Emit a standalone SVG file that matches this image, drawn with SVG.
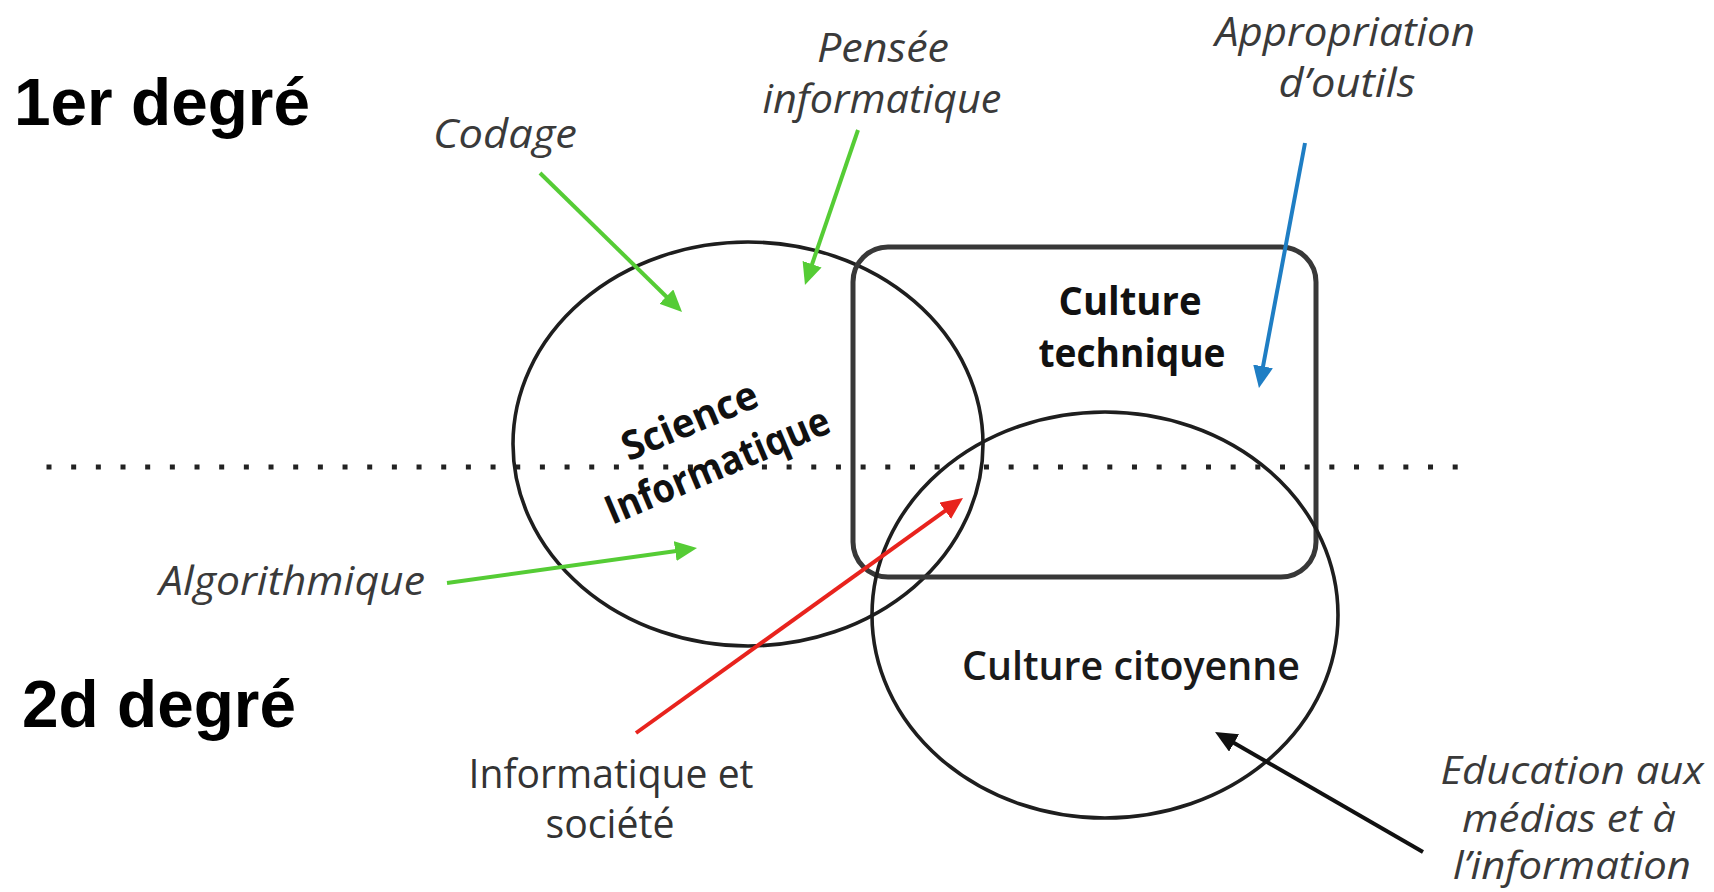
<svg xmlns="http://www.w3.org/2000/svg" width="1714" height="892" viewBox="0 0 1714 892">
<style>
.deg{font-family:"Liberation Sans",Arial,sans-serif;font-weight:bold;font-size:66px;fill:#000}
.lab{font-family:"Open Sans","Noto Sans",sans-serif;font-style:italic;font-size:40px;fill:#3a3a3a}
.lab2{font-family:"Open Sans","Noto Sans",sans-serif;font-style:italic;font-size:38px;fill:#3a3a3a}
.up{font-family:"Open Sans","Noto Sans",sans-serif;font-size:40px;fill:#333}
.bold{font-family:"Open Sans","Noto Sans",sans-serif;font-weight:bold;font-size:40px;fill:#111}
.semi{font-family:"Open Sans","Noto Sans",sans-serif;font-weight:600;font-size:39px;fill:#1a1a1a}
.shape{fill:none;stroke:#1e1e1e;stroke-width:3.6}
.box{fill:none;stroke:#383838;stroke-width:5}
.arr{fill:none;stroke-width:4;stroke-linecap:butt}
</style>
<defs>
<marker id="mg" markerUnits="userSpaceOnUse" markerWidth="24" markerHeight="22" refX="12" refY="10" orient="auto"><path d="M0,0 L22,10 L0,20 z" fill="#55cc35"/></marker>
<marker id="mr" markerUnits="userSpaceOnUse" markerWidth="24" markerHeight="22" refX="12" refY="10" orient="auto"><path d="M0,0 L22,10 L0,20 z" fill="#e8231d"/></marker>
<marker id="mb" markerUnits="userSpaceOnUse" markerWidth="24" markerHeight="22" refX="12" refY="10" orient="auto"><path d="M0,0 L22,10 L0,20 z" fill="#1f7ec4"/></marker>
<marker id="mk" markerUnits="userSpaceOnUse" markerWidth="24" markerHeight="22" refX="12" refY="10" orient="auto"><path d="M0,0 L22,10 L0,20 z" fill="#111"/></marker>
</defs>
<rect width="1714" height="892" fill="#fff"/>

<g id="deg1"><text class="deg" x="14" y="125" textLength="296" lengthAdjust="spacingAndGlyphs">1er degré</text></g>
<g id="deg2"><text class="deg" x="22" y="727" textLength="274" lengthAdjust="spacingAndGlyphs">2d degré</text></g>

<g id="divider"><line x1="46.5" y1="467" x2="1460" y2="467" stroke="#222" stroke-width="5" stroke-dasharray="5 19.67"/></g>

<g id="science">
<ellipse class="shape" cx="748" cy="444" rx="235" ry="202"/>
<g transform="translate(708,454) rotate(-23)">
<text class="bold" x="-4" y="-24" text-anchor="middle" textLength="144" lengthAdjust="spacingAndGlyphs">Science</text>
<text class="bold" x="4" y="28" text-anchor="middle" textLength="240" lengthAdjust="spacingAndGlyphs">Informatique</text>
</g>
</g>

<g id="technique">
<rect class="box" x="853" y="247" width="463" height="330" rx="35" ry="35"/>
<text class="bold" x="1130" y="315" text-anchor="middle" textLength="143" lengthAdjust="spacingAndGlyphs">Culture</text>
<text class="bold" x="1132" y="367" text-anchor="middle" textLength="187" lengthAdjust="spacingAndGlyphs">technique</text>
</g>

<g id="citoyenne">
<ellipse class="shape" cx="1105" cy="615" rx="233" ry="203"/>
<text class="semi" x="1131" y="680" text-anchor="middle" textLength="338" lengthAdjust="spacingAndGlyphs">Culture citoyenne</text>
</g>

<g id="codage"><text class="lab" x="433" y="148" textLength="144" lengthAdjust="spacingAndGlyphs">Codage</text></g>
<g id="pensee">
<text class="lab" x="883" y="62" text-anchor="middle" textLength="132" lengthAdjust="spacingAndGlyphs">Pensée</text>
<text class="lab" x="882" y="113" text-anchor="middle" textLength="239" lengthAdjust="spacingAndGlyphs">informatique</text>
</g>
<g id="appropriation">
<text class="lab" x="1345" y="46" text-anchor="middle" textLength="260" lengthAdjust="spacingAndGlyphs">Appropriation</text>
<text class="lab" x="1347" y="97" text-anchor="middle" textLength="137" lengthAdjust="spacingAndGlyphs">d’outils</text>
</g>
<g id="algorithmique"><text class="lab" x="159" y="595" textLength="266" lengthAdjust="spacingAndGlyphs">Algorithmique</text></g>
<g id="infosoc">
<text class="up" x="611" y="788" text-anchor="middle" textLength="285" lengthAdjust="spacingAndGlyphs">Informatique et</text>
<text class="up" x="610" y="838" text-anchor="middle" textLength="129" lengthAdjust="spacingAndGlyphs">société</text>
</g>
<g id="education">
<text class="lab2" x="1572" y="784" text-anchor="middle" textLength="263" lengthAdjust="spacingAndGlyphs">Education aux</text>
<text class="lab2" x="1569" y="832" text-anchor="middle" textLength="214" lengthAdjust="spacingAndGlyphs">médias et à</text>
<text class="lab2" x="1572" y="879" text-anchor="middle" textLength="238" lengthAdjust="spacingAndGlyphs">l’information</text>
</g>

<g id="connectors">
<line class="arr" stroke="#55cc35" x1="540" y1="173" x2="674.9" y2="305" marker-end="url(#mg)"/>
<line class="arr" stroke="#55cc35" x1="858" y1="130" x2="808.2" y2="275.5" marker-end="url(#mg)"/>
<line class="arr" stroke="#55cc35" x1="447" y1="583" x2="687.1" y2="549.4" marker-end="url(#mg)"/>
<line class="arr" stroke="#e8231d" x1="636" y1="733" x2="954.9" y2="503.8" marker-end="url(#mr)"/>
<line class="arr" stroke="#1f7ec4" x1="1305" y1="143" x2="1260.8" y2="378.2" marker-end="url(#mb)"/>
<line class="arr" stroke="#111" x1="1423" y1="852" x2="1223.7" y2="737" marker-end="url(#mk)"/>
</g>
</svg>
